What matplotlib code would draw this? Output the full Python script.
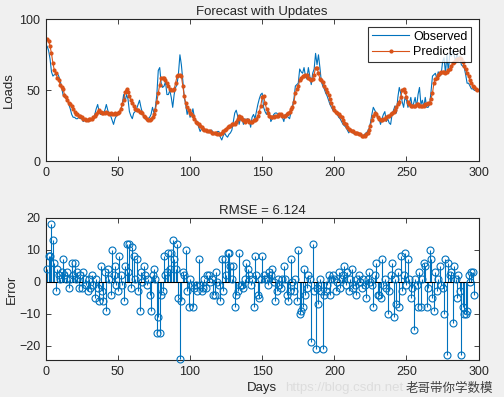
import matplotlib
matplotlib.use("Agg")
import matplotlib.pyplot as plt
import numpy as np

plt.rcParams['font.family'] = ['Liberation Sans', 'DejaVu Sans']

# observed loads (blue line)
observed = [
    81, 78, 72, 63, 60, 61, 61, 62, 60, 57,
    52, 47, 45, 46, 44, 40, 37, 33, 31, 31,
    30, 30, 31, 30, 30, 28, 29, 30, 28, 28,
    29, 29, 30, 33, 37, 40, 35, 33, 34, 34,
    36, 40, 36, 33, 32, 29, 26, 30, 32, 33,
    33, 36, 40, 47, 42, 47, 44, 35, 32, 30,
    34, 35, 37, 40, 43, 38, 34, 31, 30, 29,
    30, 31, 33, 38, 34, 38, 47, 64, 66, 55,
    52, 53, 56, 47, 47, 50, 45, 38, 47, 52,
    54, 62, 75, 68, 57, 45, 40, 33, 37, 31,
    33, 37, 31, 29, 27, 24, 21, 23, 22, 21,
    22, 21, 20, 21, 22, 20, 19, 20, 21, 21,
    17, 15, 18, 20, 18, 17, 19, 20, 22, 28,
    34, 36, 32, 26, 30, 31, 26, 30, 28, 30,
    29, 24, 31, 33, 30, 35, 40, 44, 47, 48,
    38, 35, 33, 36, 34, 28, 30, 33, 34, 34,
    33, 32, 33, 31, 28, 33, 32, 31, 30, 35,
    39, 44, 53, 54, 55, 65, 63, 62, 66, 60,
    58, 66, 60, 54, 62, 65, 76, 68, 75, 66,
    56, 53, 51, 48, 46, 43, 40, 38, 36, 35,
    34, 33, 31, 30, 28, 26, 25, 24, 22, 20,
    22, 21, 20, 19, 19, 20, 20, 19, 18, 18,
    19, 20, 21, 23, 27, 33, 38, 36, 34, 31,
    30, 26, 30, 33, 35, 28, 30, 27, 26, 33,
    36, 39, 34, 45, 52, 48, 42, 38, 45, 43,
    38, 41, 45, 38, 41, 45, 38, 47, 52, 40,
    43, 38, 45, 38, 38, 40, 49, 60, 61, 62,
    58, 63, 60, 61, 70, 73, 62, 75, 63, 76,
    74, 78, 75, 70, 76, 72, 74, 68, 67, 66,
    61, 55, 55, 53, 51, 51, 50, 50, 50,
]

# predicted loads (orange line with dots)
predicted = [
    86, 85, 81, 76, 69, 64, 62, 59, 57, 54,
    52, 51, 47, 45, 43, 41, 40, 39, 37, 35,
    33, 33, 32, 32, 31, 30, 30, 29, 29, 30,
    30, 30, 31, 32, 33, 35, 36, 35, 34, 34,
    34, 35, 34, 33, 34, 33, 33, 34, 33, 34,
    35, 37, 40, 43, 49, 51, 49, 46, 43, 41,
    39, 37, 36, 36, 35, 35, 34, 32, 31, 30,
    29, 29, 30, 31, 33, 36, 42, 48, 54, 59,
    59, 59, 57, 55, 53, 51, 50, 50, 51, 55,
    60, 61, 61, 60, 53, 46, 41, 38, 36, 34,
    33, 32, 30, 28, 27, 26, 25, 24, 23, 22,
    22, 21, 21, 21, 20, 20, 20, 20, 19, 19,
    19, 20, 21, 22, 23, 24, 25, 25, 26, 26,
    26, 28, 30, 32, 31, 30, 29, 28, 29, 29,
    28, 28, 28, 29, 29, 30, 32, 35, 39, 45,
    46, 41, 37, 34, 32, 31, 31, 31, 32, 32,
    32, 33, 33, 32, 32, 32, 33, 34, 35, 37,
    38, 42, 48, 51, 53, 57, 59, 60, 60, 61,
    61, 59, 58, 57, 58, 61, 66, 66, 62, 58,
    57, 56, 53, 51, 49, 47, 44, 41, 38, 36,
    35, 34, 33, 32, 31, 29, 27, 26, 24, 23,
    22, 21, 21, 20, 20, 20, 19, 19, 18, 18,
    18, 19, 20, 22, 25, 29, 32, 34, 33, 31,
    30, 29, 29, 30, 30, 31, 32, 32, 33, 34,
    35, 36, 38, 40, 42, 45, 50, 51, 49, 45,
    42, 40, 39, 39, 39, 39, 40, 40, 39, 39,
    39, 39, 40, 40, 41, 41, 44, 48, 55, 58,
    59, 61, 62, 63, 63, 63, 62, 63, 64, 65,
    67, 69, 70, 71, 72, 72, 73, 72, 70, 67,
    65, 62, 60, 57, 55, 53, 52, 51, 50,
]

# forecast error (stem plot)
error = [
    4, 8, 8, 18, 13, 6, -3, 4, 2, 1,
    3, 7, 2, 1, 3, -2, 1, 6, 2, 6,
    1, 3, -2, 2, -2, 3, 1, -1, -3, 1,
    -2, 2, -1, -5, 1, -2, -6, 5, -3, -6,
    3, -9, 4, 1, -4, 10, 2, 5, -1, -3,
    8, 2, -1, -6, 5, 12, 3, 12, -2, 11,
    8, 1, 7, -3, -9, 3, 0, 5, 2, -1,
    1, -4, -9, 2, 4, 1, -16, -11, -16, -4,
    -3, 8, 2, 3, 9, 4, 9, 13, 7, 4,
    12, -5, -24.3, -6, 3, 2, 10, -3, -8, 1,
    -1, -8, -2, -1, -3, 7, -1, -3, -2, 1,
    -2, 2, 2, 0, 1, -4, -4, 3, 0, -1,
    -6, 7, -3, 7, 2, 9, 9, 5, 1, 5,
    -8, -4, -3, 9, -1, -1, -2, 1, 6, 4,
    2, -1, 1, -8, 8, 2, -4, -5, 1, 8,
    2, 1, 1, -1, 3, 2, 4, 0, -6, -3,
    1, -1, -2, 1, 5, 1, -4, -6, -3, 7,
    0, -3, 1, -6, 10, -10, -9, -8, 4, -4,
    -2, 2, 1, -19, 12, -3, -21, -2, -7, 1,
    -3, -21, -4, -3, -1, 2, -4, 1, 2, 1,
    -3, 0, 3, -2, 1, 2, 5, -1, 3, -3,
    1, 4, -2, -1, -4, 1, 2, 0, -2, 1,
    -1, -5, 1, 3, 0, -1, -8, 2, 6, -4,
    -4, -5, 7, -1, 1, -2, -10, -3, 2, 6,
    -11, 1, -7, 3, -8, 8, -3, 2, 9, -1,
    7, 1, -5, -2, -15, 1, -1, -8, 3, -8,
    1, 6, 5, -8, -2, 10, 7, -5, -9, 3,
    -3, 1, 5, -1, -2, -10, 7, -23, 6, 2,
    3, -13, 5, 1, -5, 2, -3, -23, -8, -10,
    -10, -9, 2, 0, 3, 3, -4,
]

rmse_text = "RMSE = 6.124"

blue = '#0072BD'
orange = '#D95319'
axcol = '#262626'

fig = plt.figure(figsize=(5.04, 3.97), dpi=100, facecolor='#f0f0f0')
ax1 = fig.add_axes([0.0907, 0.5937, 0.859, 0.3577])
ax2 = fig.add_axes([0.0907, 0.0932, 0.859, 0.3577])

def style(ax):
    for s in ax.spines.values():
        s.set_color(axcol)
        s.set_linewidth(0.8)
    ax.tick_params(direction='in', length=3.5, width=0.6, colors=axcol,
                   labelsize=9, top=True, right=True, pad=4)
    for lab in ax.get_xticklabels() + ax.get_yticklabels():
        lab.set_color(axcol)

# top: observed vs predicted
days = np.arange(1, len(observed) + 1)
ax1.plot(days, observed, color=blue, lw=0.8, label='Observed')
ax1.plot(np.arange(1, len(predicted) + 1), predicted, color=orange, lw=0.8,
         marker='.', markersize=4, label='Predicted')
ax1.set_xlim(0, 300)
ax1.set_ylim(0, 100)
ax1.set_xticks(np.arange(0, 301, 50))
ax1.set_yticks([0, 50, 100])
ax1.set_ylabel('Loads', fontsize=9.5, color=axcol, labelpad=3)
ax1.set_title('Forecast with Updates', fontsize=9.5, color=axcol, pad=3)
leg = ax1.legend(loc='upper right', fontsize=9, frameon=True, fancybox=False,
                 borderaxespad=0.6, handlelength=3.0, borderpad=0.3,
                 labelspacing=0.3, handletextpad=0.3)
leg.get_frame().set_edgecolor('black')
leg.get_frame().set_linewidth(0.8)
style(ax1)

# bottom: stem plot of error
edays = np.arange(1, len(error) + 1)
ml, sl, bl = ax2.stem(edays, error, basefmt='k-')
plt.setp(sl, color=blue, linewidth=0.8)
plt.setp(ml, color=blue, markerfacecolor='none', markersize=5,
         markeredgewidth=0.8, clip_on=False, zorder=3)
plt.setp(bl, color='black', linewidth=0.8)
ax2.set_xlim(0, 300)
ax2.set_ylim(-24.5, 20)
ax2.set_xticks(np.arange(0, 301, 50))
ax2.set_yticks([-20, -10, 0, 10, 20])
ax2.set_xlabel('Days', fontsize=9.5, color=axcol, labelpad=3)
ax2.set_ylabel('Error', fontsize=9.5, color=axcol, labelpad=1)
ax2.set_title(rmse_text, fontsize=9.5, color=axcol, pad=3)
style(ax2)

# watermark overlay, kept on the row below the tick labels
fig.text(0.565, 0.022, 'https://blog.csdn.net', fontsize=9.5, color='#d8d8d8',
         alpha=0.8, va='center', ha='left')
fig.text(0.805, 0.022, '老哥带你学数模', fontsize=9, color='#404040',
         family=['Noto Sans CJK SC', 'DejaVu Sans'], va='center', ha='left')

fig.savefig('out.png', dpi=100, facecolor=fig.get_facecolor())
